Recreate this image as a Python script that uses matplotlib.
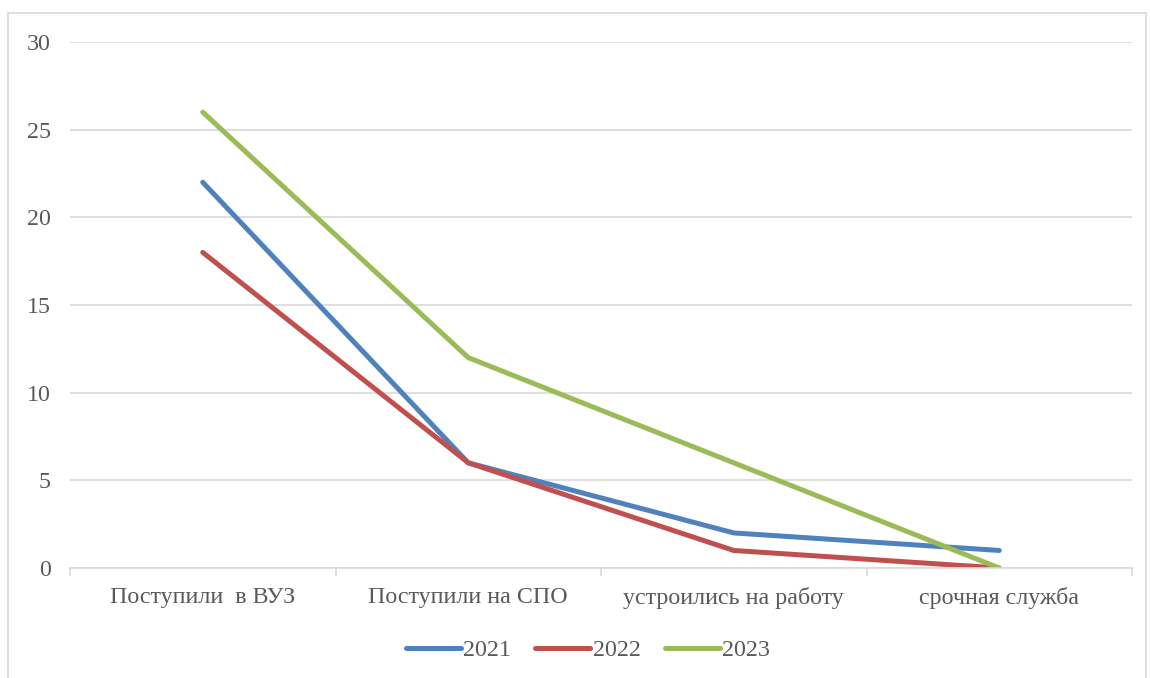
import matplotlib
matplotlib.use("Agg")
import matplotlib.pyplot as plt
from matplotlib.patches import Rectangle

categories = ["Поступили  в ВУЗ", "Поступили на СПО", "устроились на работу", "срочная служба"]
years = ["2021", "2022", "2023"]
v2021 = [22, 6, 2, 1]
v2022 = [18, 6, 1, 0]
v2023 = [26, 12, 6, 0]
colors = ["#4F81BD", "#C0504D", "#9BBB59"]

plt.rcParams["font.family"] = ["Liberation Serif", "DejaVu Serif"]
FS = 17.3

fig = plt.figure(figsize=(11.5, 6.78), dpi=100)
ax = fig.add_axes([70 / 1150, 1 - 568 / 678, (1132 - 70) / 1150, (568 - 42) / 678])

# outer chart border
fig.patches.append(Rectangle((8 / 1150, -0.05), 1138 / 1150, 1.05 - 13 / 678,
                             transform=fig.transFigure, fill=False,
                             edgecolor="#D9D9D9", lw=1.2))

x = [i + 0.5 for i in range(len(categories))]
for vals, yr, c in zip([v2021, v2022, v2023], years, colors):
    ax.plot(x, vals, color=c, lw=3.6, solid_capstyle="round", label=yr)

ax.set_xlim(0, 4)
ax.set_ylim(0, 30)
ax.set_yticks(range(0, 31, 5))
ax.yaxis.grid(True, color="#D9D9D9", lw=1.2)
ax.set_axisbelow(True)
ax.tick_params(axis="y", length=0, labelsize=FS, labelcolor="#595959", pad=14)

ax.set_xticks(x)
ax.set_xticklabels(categories)
ax.set_xticks(range(5), minor=True)
ax.tick_params(axis="x", which="major", length=0, labelsize=FS, labelcolor="#595959", pad=14)
ax.tick_params(axis="x", which="minor", length=6, color="#D9D9D9", width=1.2)

for s in ["top", "right", "left"]:
    ax.spines[s].set_visible(False)
ax.spines["bottom"].set_color("#D9D9D9")
ax.spines["bottom"].set_linewidth(1.2)

leg = fig.legend(loc="center", bbox_to_anchor=(588 / 1150, 1 - 650 / 678), ncol=3, frameon=False,
                 fontsize=FS, handlelength=2.3, handletextpad=0.1, columnspacing=1.0)
for t in leg.get_texts():
    t.set_color("#595959")

fig.savefig("out.png", dpi=100)
